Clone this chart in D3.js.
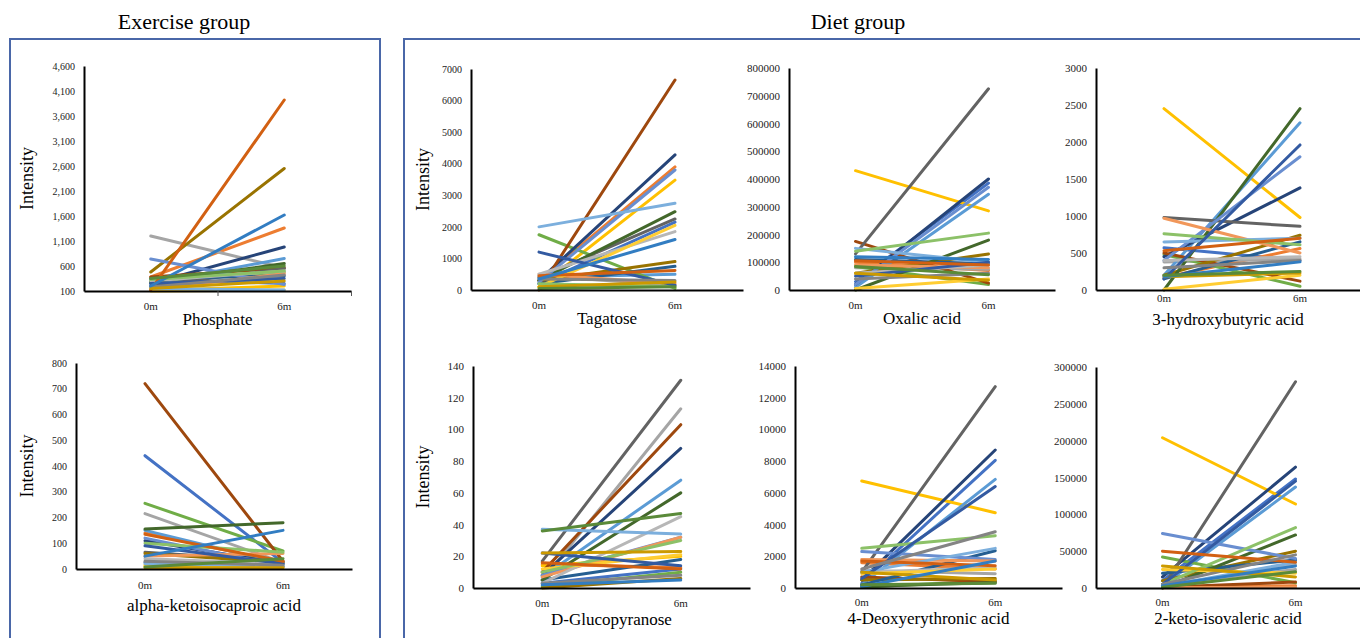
<!DOCTYPE html>
<html>
<head>
<meta charset="utf-8">
<script src="https://cdn.jsdelivr.net/npm/d3@7"></script>
<style>
  body { margin: 0; background: #fff; }
  svg text { font-family: "Liberation Serif", "Times New Roman", serif !important; }
  .axis path { stroke: #000; stroke-width: 2; }
  .axis text { font-size: 11px; fill: #222; }
</style>
</head>
<body>
<svg width="1360" height="638"></svg>
<script>
var months = ["0m", "6m"];

// Excel default series colours, one per subject
var palette = ["#4472C4", "#ED7D31", "#A5A5A5", "#FFC000", "#5B9BD5", "#70AD47",
  "#264478", "#9E480E", "#636363", "#997300", "#255E91", "#43682B",
  "#698ED0", "#F1975A", "#B7B7B7", "#FFCD33", "#7CAFDD", "#8CC168",
  "#335AA1", "#D26012", "#848484", "#CC9A00", "#327DC2", "#5A8A39"];

// exercise group
var phosphate0 = [330, 380, 1200, 110, 250, 300, 250, 380, 200, 480, 350, 280, 740, 120, 300, 100, 150, 330, 250, 120, 180, 150, 200, 350];
var phosphate6 = [250, 1360, 560, 200, 750, 480, 980, 560, 550, 2550, 400, 650, 230, 450, 500, 120, 120, 500, 350, 3920, 420, 300, 1620, 600];
var aKic0 = [440, 140, 215, 15, 150, 255, 110, 720, 65, 60, 25, 155, 120, 50, 40, 10, 20, 100, 90, 135, 30, 5, 50, 8];
var aKic6 = [25, 25, 25, 10, 20, 70, 20, 30, 30, 25, 10, 180, 10, 60, 20, 5, 15, 65, 20, 30, 15, 5, 150, 40];

// diet group
var tagatose0 = [200, 300, 450, 100, 400, 1750, 300, 0, 400, 300, 200, 300, 250, 500, 500, 100, 2000, 200, 1200, 450, 350, 100, 350, 50];
var tagatose6 = [2150, 3900, 150, 3480, 500, 50, 4280, 6650, 2250, 900, 750, 2480, 3800, 200, 1850, 2050, 2750, 100, 150, 620, 300, 250, 1600, 100];
var oxalic0 = [30000, 100000, 80000, 430000, 10000, 85000, 20000, 175000, 130000, 60000, 110000, 0, 20000, 90000, 60000, 5000, 150000, 140000, 50000, 105000, 40000, 60000, 120000, 85000];
var oxalic6 = [385000, 70000, 75000, 285000, 345000, 20000, 400000, 25000, 725000, 130000, 95000, 180000, 370000, 80000, 90000, 40000, 100000, 205000, 100000, 90000, 60000, 35000, 110000, 55000];
var hydroxy0 = [570, 170, 380, 2450, 200, 480, 450, 500, 980, 200, 150, 0, 400, 970, 400, 10, 650, 760, 150, 530, 300, 180, 180, 200];
var hydroxy6 = [400, 560, 420, 980, 2260, 50, 1380, 120, 860, 740, 650, 2450, 1800, 500, 450, 200, 700, 610, 1960, 700, 400, 230, 380, 250];
var gluco0 = [3, 15, 5, 14, 7, 1, 8, 10, 17, 0, 5, 5, 8, 7, 3, 12, 37, 10, 22, 16, 3, 22, 2, 36];
var gluco6 = [12, 13, 113, 20, 68, 10, 88, 103, 131, 6, 18, 60, 32, 32, 45, 21, 34, 30, 14, 12, 8, 23, 5, 47];
var deoxy0 = [300, 1600, 1100, 6750, 200, 50, 500, 700, 1000, 500, 200, 100, 2300, 1800, 1000, 900, 1000, 2500, 600, 1700, 1200, 1000, 100, 200];
var deoxy6 = [8050, 1200, 900, 4750, 6850, 450, 8700, 400, 12700, 600, 2350, 350, 1800, 1700, 1300, 1200, 2500, 3300, 6400, 1400, 3550, 500, 1700, 300];
var keto0 = [10000, 1000, 5000, 204000, 3000, 42000, 15000, 1000, 0, 10000, 20000, 0, 74000, 500, 1000, 25000, 2000, 5000, 5000, 50000, 5000, 30000, 3000, 1000];
var keto6 = [148000, 3000, 25000, 114000, 137000, 7000, 164000, 8000, 280000, 50000, 38000, 72000, 40000, 1000, 32000, 20000, 35000, 82000, 145000, 35000, 45000, 15000, 30000, 22000];

var svg = d3.select("svg");

// group frames and headings
svg.append("rect").attr("x", 10).attr("y", 39).attr("width", 370).attr("height", 620)
    .attr("fill", "none").attr("stroke", "#4a67a8").attr("stroke-width", 2);
svg.append("rect").attr("x", 404).attr("y", 39).attr("width", 980).attr("height", 620)
    .attr("fill", "none").attr("stroke", "#4a67a8").attr("stroke-width", 2);
svg.append("text").attr("x", 184).attr("y", 29).attr("text-anchor", "middle")
    .style("font-size", "22px").text("Exercise group");
svg.append("text").attr("x", 858).attr("y", 29).attr("text-anchor", "middle")
    .style("font-size", "22px").text("Diet group");

var panels = [
  {name: "Phosphate", v0: phosphate0, v6: phosphate6, domain: [100, 4600], step: 500, comma: true, tickFont: 10,
   left: 84, right: 351, top: 66, bottom: 291, ylabel: 27, title: 319, pad: 11, marks: true},
  {name: "alpha-ketoisocaproic acid", v0: aKic0, v6: aKic6, domain: [0, 800], step: 100, tickFont: 10,
   left: 76, right: 352, top: 363, bottom: 569, ylabel: 27, title: 605, pad: 12},
  {name: "Tagatose", v0: tagatose0, v6: tagatose6, domain: [0, 7000], step: 1000, tickFont: 10,
   left: 471, right: 743, top: 69, bottom: 290, ylabel: 423, title: 318, pad: 11},
  {name: "Oxalic acid", v0: oxalic0, v6: oxalic6, domain: [0, 800000], step: 100000, tickFont: 11,
   left: 789, right: 1055, top: 68, bottom: 290, title: 318, pad: 11},
  {name: "3-hydroxybutyric acid", v0: hydroxy0, v6: hydroxy6, domain: [0, 3000], step: 500, tickFont: 11,
   left: 1096, right: 1368, top: 68, bottom: 290, title: 319, pad: 4},
  {name: "D-Glucopyranose", v0: gluco0, v6: gluco6, domain: [0, 140], step: 20, tickFont: 11,
   left: 473, right: 750, top: 366, bottom: 588, ylabel: 423, title: 619, pad: 11},
  {name: "4-Deoxyerythronic acid", v0: deoxy0, v6: deoxy6, domain: [0, 14000], step: 2000, tickFont: 11,
   left: 795, right: 1062, top: 366, bottom: 588, title: 618, pad: 10},
  {name: "2-keto-isovaleric acid", v0: keto0, v6: keto6, domain: [0, 300000], step: 50000, tickFont: 11,
   left: 1096, right: 1362, top: 367, bottom: 588, title: 618, pad: 10}
];

panels.forEach(function(p) {
  var g = svg.append("g");

  var x = d3.scaleBand().domain(months).range([p.left, p.right]).padding(0);
  var y = d3.scaleLinear().domain(p.domain).range([p.bottom, p.top]);
  var cx = function(m) { return x(m) + x.bandwidth() / 2; };

  var series = p.v0.map(function(v, i) {
    return {colour: palette[i], pts: [[months[0], v], [months[1], p.v6[i]]]};
  });

  var line = d3.line()
      .x(function(d) { return cx(d[0]); })
      .y(function(d) { return y(d[1]); });

  g.selectAll(".series")
      .data(series)
    .enter().append("path")
      .attr("class", "series")
      .attr("d", function(d) { return line(d.pts); })
      .attr("fill", "none")
      .attr("stroke", function(d) { return d.colour; })
      .attr("stroke-width", 3)
      .attr("stroke-linecap", "round");

  var ticks = d3.range(p.domain[0], p.domain[1] + 1, p.step);
  g.append("g")
      .attr("class", "axis")
      .attr("transform", "translate(" + p.left + ",0)")
      .call(d3.axisLeft(y).tickValues(ticks).tickSize(0).tickPadding(9)
        .tickFormat(p.comma ? d3.format(",") : d3.format("d")))
      .selectAll("text").style("font-size", p.tickFont + "px");

  g.append("g")
      .attr("class", "axis")
      .attr("transform", "translate(0," + p.bottom + ")")
      .call(d3.axisBottom(x).tickSize(0).tickPadding(p.pad));

  if (p.marks) {
    var edge = d3.scaleLinear().domain([0, 2]).range([p.left, p.right]);
    g.append("g")
        .attr("transform", "translate(0," + p.bottom + ")")
        .call(d3.axisBottom(edge).tickValues([1, 2]).tickFormat("").tickSize(5))
        .call(function(s) { s.select(".domain").remove(); s.selectAll("line").attr("stroke", "#555"); });
  }

  if (p.ylabel) {
    g.append("text")
        .attr("transform", "translate(" + p.ylabel + "," + ((p.top + p.bottom) / 2) + ") rotate(-90)")
        .attr("text-anchor", "middle")
        .attr("dy", "0.35em")
        .style("font-size", "18px")
        .text("Intensity");
  }

  g.append("text")
      .attr("x", (p.left + Math.min(p.right, 1360)) / 2)
      .attr("y", p.title)
      .attr("text-anchor", "middle")
      .attr("dy", "0.35em")
      .style("font-size", "17px")
      .text(p.name);
});
</script>
</body>
</html>
